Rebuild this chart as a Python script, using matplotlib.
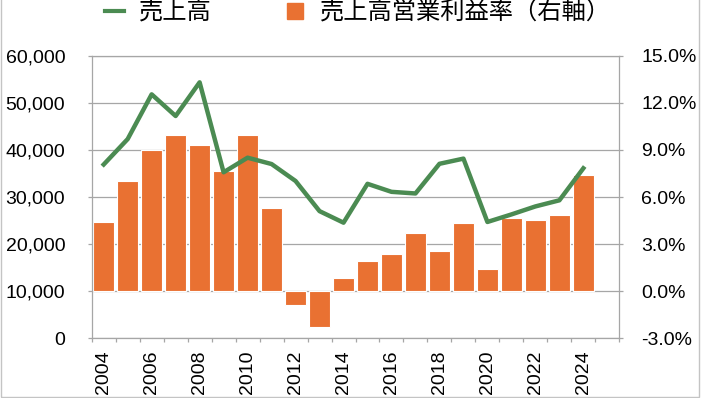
import numpy as np, matplotlib; matplotlib.use("Agg"); import matplotlib.pyplot as plt
from matplotlib.ticker import FuncFormatter
from matplotlib.lines import Line2D
from matplotlib.patches import Rectangle

# 売上高 (left axis) and 売上高営業利益率 % (right axis), 2004-2024
years  = [2004, 2005, 2006, 2007, 2008, 2009, 2010, 2011, 2012, 2013, 2014,
          2015, 2016, 2017, 2018, 2019, 2020, 2021, 2022, 2023, 2024]
sales  = [36900, 42300, 51800, 47200, 54350, 35250, 38350, 37000, 33400, 27000, 24550,
          32800, 31100, 30750, 37050, 38150, 24700, 26300, 28000, 29300, 36100]
margin = [4.41, 7.03, 8.98, 9.96, 9.34, 7.64, 9.92, 5.29, -0.89, -2.27, 0.83,
          1.93, 2.38, 3.71, 2.53, 4.37, 1.44, 4.67, 4.54, 4.88, 7.43]
labels = ["売上高", "売上高営業利益率（右軸）"]

GREEN, ORANGE, GRID = "#4B8B52", "#E97132", "#a6a6a6"
plt.rcParams["font.family"] = ["Liberation Sans", "DejaVu Sans"]
plt.rcParams["axes.unicode_minus"] = False

fig = plt.figure(figsize=(7.01, 3.98), dpi=100)
ax = fig.add_axes([0.1308, 0.15, 0.7527, 0.71])
ax2 = ax.twinx()
ax.set_zorder(ax2.get_zorder() + 1); ax.patch.set_visible(False)
ax2.patch.set_visible(True); ax2.patch.set_facecolor("white")

x = np.arange(len(years))
ax2.bar(x, margin, width=0.88, color=ORANGE, edgecolor="white", linewidth=0.8, zorder=2)
ax2.set_axisbelow(True)
ax2.yaxis.grid(True, color=GRID, lw=0.9)
ax.plot(x, sales, color=GREEN, lw=3.2, zorder=3)

ax.set_xlim(-0.5, len(years) + 0.5)
ax.set_ylim(0, 60000); ax.set_yticks(np.arange(0, 60001, 10000))
ax2.set_ylim(-3, 15); ax2.set_yticks(np.arange(-3, 15.1, 3))
ax.yaxis.set_major_formatter(FuncFormatter(lambda v, p: f"{v:,.0f}"))
ax2.yaxis.set_major_formatter(FuncFormatter(lambda v, p: f"{v:.1f}%"))

ax.set_xticks(x[::2]); ax.set_xticklabels([str(y) for y in years[::2]], rotation=90)
ax.set_xticks(np.arange(-0.5, len(years) + 1), minor=True)
ax.tick_params(axis="x", which="major", length=0, pad=8.5, labelsize=14)
ax.tick_params(axis="x", which="minor", length=2.6, color=GRID, width=0.9)
ax.tick_params(axis="y", length=2.6, color=GRID, width=0.9, pad=16.5, labelsize=14)
ax2.tick_params(axis="y", length=2.6, color=GRID, width=0.9, pad=13, labelsize=14)

for s in ax2.spines.values(): s.set_visible(False)
for s in ax.spines.values(): s.set_color(GRID); s.set_linewidth(0.9)

hs = [Line2D([], [], color=GREEN, lw=3),
      Line2D([], [], marker="s", ls="none", color=ORANGE, markersize=11)]
fig.legend(hs, labels, loc="center", bbox_to_anchor=(0.5103, 0.968), ncol=2, frameon=False,
           prop={"family": ["Noto Sans CJK JP", "DejaVu Sans"], "size": 17.5},
           handlelength=0.8, handletextpad=0.62, columnspacing=3.0, borderaxespad=0, borderpad=0)

fig.add_artist(Rectangle((1 / 701, 1.5 / 398), 697.5 / 701, 1.0, transform=fig.transFigure,
                         fill=False, ec="#c4c4c4", lw=1))
fig.savefig("out.png", dpi=100)
